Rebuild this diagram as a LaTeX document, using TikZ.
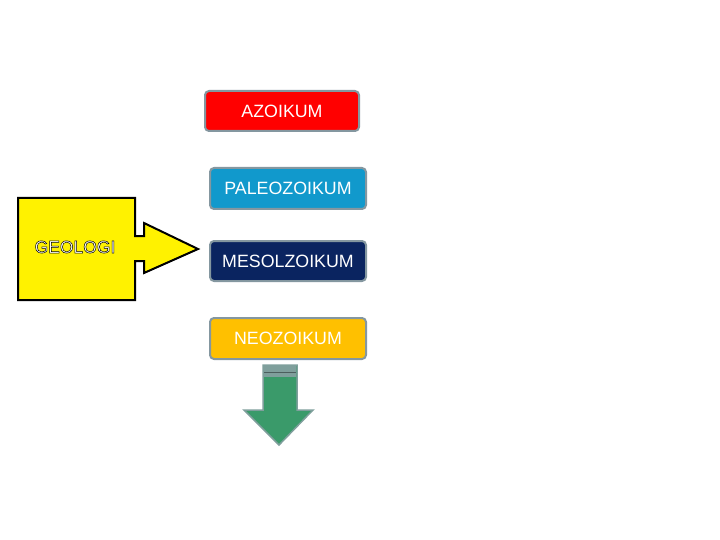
\documentclass[tikz,border=0pt]{standalone}
\usepackage{fontspec}
\setmainfont{Liberation Sans}
\definecolor{azo}{HTML}{FF0000}
\definecolor{pal}{HTML}{1199CC}
\definecolor{mes}{HTML}{0A2460}
\definecolor{neo}{HTML}{FFC000}
\definecolor{rim}{HTML}{8497A0}
\definecolor{grn}{HTML}{3A9A6A}
\definecolor{grnrim}{HTML}{7F9F9C}
\newcommand{\outlinedtext}[1]{\special{pdf:literal direct q 2 Tr 0.5 w 0 0 0 RG 1 1 1 rg}#1\special{pdf:literal direct Q}}
\tikzset{
  era/.style={draw=rim, line width=2pt, rounded corners=4pt, minimum width=154pt, minimum height=40pt, inner sep=0pt, font=\fontsize{17.8}{19}\selectfont},
}
\begin{document}
\begin{tikzpicture}[x=1pt,y=-1pt]
\useasboundingbox (0,0) rectangle (720,540);
\fill[white] (0,0) rectangle (720,540);
% era boxes
\node[era, fill=azo, text=white] (azo) at (282,111) {AZOIKUM};
\node[era, fill=pal, text=white, minimum width=156pt, minimum height=41pt] (pal) at (288,188.5) {PALEOZOIKUM};
\node[era, fill=mes, text=white, minimum width=156pt, minimum height=40pt] (mes) at (288,261) {MESOLZOIKUM};
\node[era, fill=neo, text=white, minimum width=156pt, minimum height=41pt] (neo) at (288,338.5) {NEOZOIKUM};
% green arrow
\coordinate (gtop) at (280,365);
\draw[fill=grn, draw=grnrim, line width=1.5pt, line join=miter]
  (263,365) -- (297,365) -- (297,410) -- (313,410) -- (279,445) -- (244,410) -- (263,410) -- cycle;
\fill[grnrim] (264,366) rectangle (296,377);
\draw[grnrim!60!black, line width=0.6pt] (264,372) -- (296,372);
% yellow callout
\draw[fill=yellow, draw=black, line width=2pt, line join=miter]
  (18,198) -- (135,198) -- (135,236) -- (144,236) -- (144,223) -- (198,249)
  -- (144,273) -- (144,261) -- (135,261) -- (135,300) -- (18,300) -- cycle;
\node[font=\fontsize{17.5}{19}\selectfont, inner sep=0pt, text=white] (geo) at (75,247)
  {\outlinedtext{GEOLOGI}};
\end{tikzpicture}
\end{document}
